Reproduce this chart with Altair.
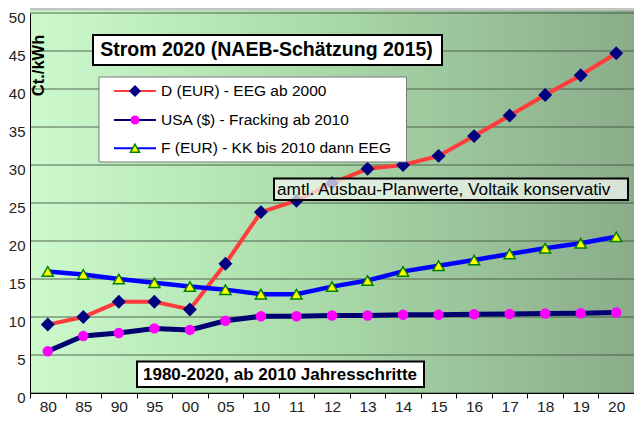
import altair as alt
import pandas as pd

# ---------------- data ----------------
years = ["80", "85", "90", "95", "00", "05", "10", "11", "12", "13",
         "14", "15", "16", "17", "18", "19", "20"]
d_eur = [9, 10, 12, 12, 11, 17, 23.8, 25.3, 27.6, 29.5,
         30, 31.2, 33.8, 36.5, 39.2, 41.8, 44.7]
usa = [5.5, 7.5, 7.9, 8.5, 8.3, 9.5, 10.1, 10.1, 10.2, 10.2,
       10.3, 10.3, 10.35, 10.4, 10.45, 10.5, 10.6]
f_eur = [16, 15.6, 15, 14.5, 14, 13.6, 13, 13, 14, 14.8,
         16, 16.75, 17.5, 18.3, 19.05, 19.7, 20.55]
y_ticks = [0, 5, 10, 15, 20, 25, 30, 35, 40, 45, 50]

legend_labels = ["D (EUR) - EEG ab 2000",
                 "USA ($) - Fracking ab 2010",
                 "F (EUR) - KK bis 2010 dann EEG"]
title_text = "Strom 2020 (NAEB-Schätzung 2015)"
note_text = "amtl. Ausbau-Planwerte, Voltaik konservativ"
range_text = "1980-2020, ab 2010 Jahresschritte"
y_title = "Ct./kWh"

FONT = "Liberation Sans"
W, H = 604, 380

# series styles: (values, line colour, line width, shape, fill, stroke, size)
series = [
    (d_eur, "#ff3b3b", 4, "diamond", "#000080", "#000080", 140),
    (usa, "#000070", 5, "circle", "#ff00ff", "#ff00ff", 80),
    (f_eur, "#0000ff", 4.5, "triangle-up", "#ffff00", "#008000", 120),
]

x_scale = alt.Scale(type="band", domain=years, paddingInner=0, paddingOuter=0)
y_scale = alt.Scale(domain=[0, 50], nice=False, zero=True)

x_axis = alt.Axis(title=None, tickBand="extent", labelFontSize=15.5, labelFont=FONT,
                  labelColor="#222222", labelAngle=0, domainColor="black",
                  tickColor="black", tickSize=5, labelPadding=1, grid=False,
                  zindex=2)
y_axis = alt.Axis(title=None, values=y_ticks, labelFontSize=15, labelFont=FONT,
                  labelColor="#222222", domainColor="black", ticks=False,
                  labelPadding=5, labelOffset=4, grid=False, zindex=2)

# background gradient
bg = alt.Chart(pd.DataFrame({"a": [0]})).mark_rect(
    color=alt.LinearGradient(
        gradient="linear", x1=0, x2=1, y1=0, y2=0,
        stops=[alt.GradientStop(color="#ccfacc", offset=0),
               alt.GradientStop(color="#a8d8a8", offset=0.5),
               alt.GradientStop(color="#8aac8a", offset=1)])
).encode(x=alt.value(0), x2=alt.value(W), y=alt.value(-5), y2=alt.value(H))

grid = alt.Chart(pd.DataFrame({"value": y_ticks})).mark_rule(
    color="#3d4d3d", strokeWidth=1, opacity=0.85
).encode(y=alt.Y("value:Q", scale=y_scale, axis=y_axis))

top_border = alt.Chart(pd.DataFrame({"a": [0]})).mark_rule(
    color="#c4c4c4", strokeWidth=3
).encode(x=alt.value(0), x2=alt.value(W), y=alt.value(-4))

layers = [bg, grid, top_border]
for vals, lc, lw, shape, fill, stroke, size in series:
    df = pd.DataFrame({"year": years, "value": vals})
    xe = alt.X("year:N", sort=years, scale=x_scale, axis=x_axis, bandPosition=0.5)
    ye = alt.Y("value:Q", scale=y_scale, axis=y_axis)
    base = alt.Chart(df)
    layers.append(base.mark_line(color=lc, strokeWidth=lw).encode(x=xe, y=ye))
    layers.append(base.mark_point(shape=shape, filled=True, fill=fill, stroke=stroke,
                                  strokeWidth=1.5, size=size, opacity=1)
                  .encode(x=xe, y=ye))

one = pd.DataFrame({"a": [0]})


def box(x1, x2, y1, y2, fill, stroke, sw, fop=1.0):
    return alt.Chart(one).mark_rect(fill=fill, stroke=stroke, strokeWidth=sw,
                                    fillOpacity=fop).encode(
        x=alt.value(x1), x2=alt.value(x2), y=alt.value(y1), y2=alt.value(y2))


def label(x, y, txt, size, bold=False, align="left", angle=0):
    kw = dict(font=FONT, fontSize=size, align=align, baseline="middle",
              color="black", fontWeight="bold" if bold else "normal")
    if angle:
        kw["angle"] = angle
    return alt.Chart(one).mark_text(**kw).encode(
        x=alt.value(x), y=alt.value(y), text=alt.value(txt))


# title box
layers.append(box(63, 412, 22, 52, "white", "black", 2))
layers.append(label(236.5, 37.3, title_text, 19.5, bold=True, align="center"))

# y title
layers.append(label(9, 52.5, y_title, 16.5, bold=True, align="center", angle=270))

# legend
layers.append(box(69, 376.5, 64, 149, "white", "#7a7a7a", 1))
leg_y = [78, 107, 135.2]
for (vals, lc, lw, shape, fill, stroke, size), txt, ly in zip(series, legend_labels, leg_y):
    layers.append(alt.Chart(one).mark_rule(color=lc, strokeWidth=2).encode(
        x=alt.value(84), x2=alt.value(126), y=alt.value(ly)))
    layers.append(alt.Chart(one).mark_point(shape=shape, filled=True, fill=fill,
                                            stroke=stroke, strokeWidth=1.5,
                                            size=size * 0.7, opacity=1).encode(
        x=alt.value(105), y=alt.value(ly)))
    layers.append(label(131, ly, txt, 15.5))

# note box (semi transparent)
layers.append(box(244, 598, 165.5, 187, "#f4f8f4", "black", 2, 0.72))
layers.append(label(247, 177, note_text, 17.2))

# range box
layers.append(box(107, 394, 348.5, 374, "white", "black", 2))
layers.append(label(250, 361.5, range_text, 17, bold=True, align="center"))

chart = alt.layer(*layers).properties(
    width=W, height=H,
    padding={"left": 22, "top": 5, "right": 0, "bottom": 23},
    autosize=alt.AutoSizeParams(type="none"),
    background="white",
).configure_view(stroke=None)

chart.save("out.html", embed_options={"renderer": "svg", "actions": False})
